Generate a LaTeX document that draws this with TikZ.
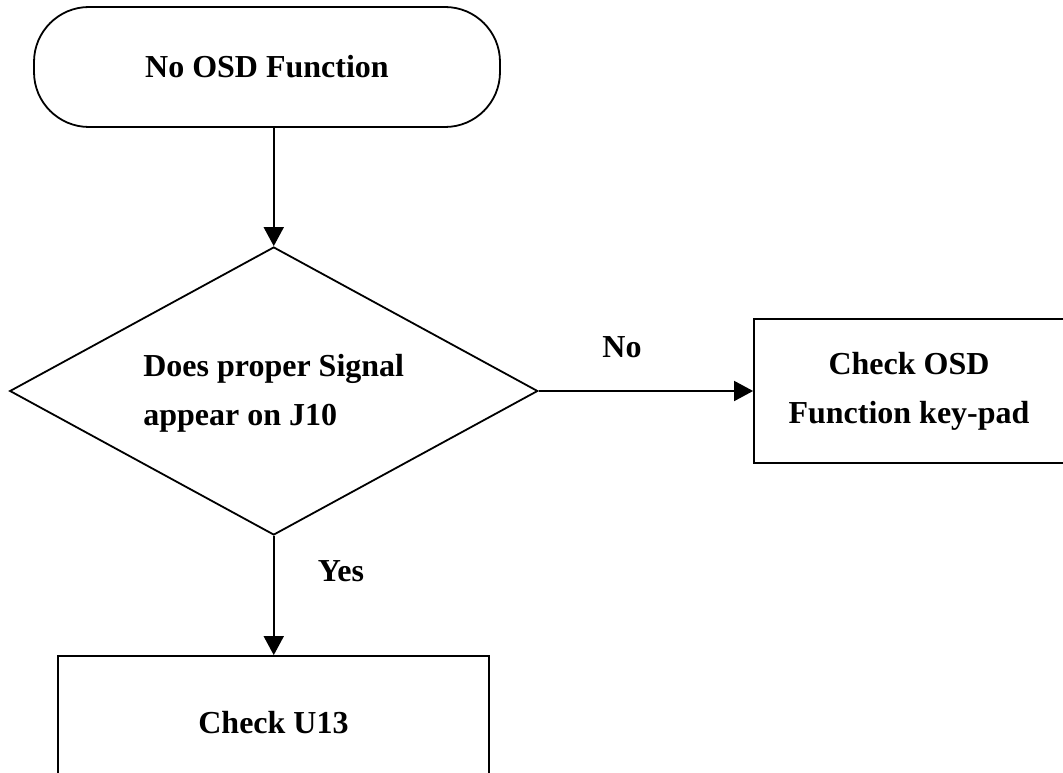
\documentclass[tikz,border=0pt]{standalone}
\usepackage{fontspec}
\setmainfont{Liberation Serif}
\usetikzlibrary{arrows.meta,shapes.geometric}
\begin{document}
\begin{tikzpicture}[x=1pt,y=-1pt,
  every node/.style={font=\fontsize{32}{49}\selectfont\bfseries},
  line/.style={draw=black, line width=1.8pt},
  flow/.style={line, -{Triangle[length=19pt,width=20pt]}},
  terminal/.style={line, rectangle, rounded corners=55pt, minimum width=466pt, minimum height=120pt, inner sep=0pt},
  decision/.style={line, diamond, aspect=1.84, minimum width=528pt, minimum height=288pt, inner sep=0pt},
  process/.style={line, rectangle, inner sep=0pt, align=center},
  tag/.style={inner sep=0pt}]
\fill[white] (0,0) rectangle (1063,773);
\useasboundingbox (0,0) rectangle (1063,773);
\clip (0,0) rectangle (1063,773);

% flow chart nodes
\node[terminal] (start) at (267,67) {No OSD Function};
\node[decision] (dec) at (273.75,391)
  {\raisebox{10pt}{\begin{tabular}{@{}l@{}}Does proper Signal\\appear on J10\end{tabular}}};
\node[process, minimum width=310pt, minimum height=144pt] (osd) at (909,391) {Check OSD\\Function key-pad};
\node[process, minimum width=431pt, minimum height=134pt] (u13) at (273.5,723) {Check U13};

% branch labels
\node[tag] (no) at (622,347) {No};
\node[tag] (yes) at (341,571) {Yes};

% connectors
\draw[flow] (start.south -| dec.north) -- (dec.north);
\draw[flow] (dec.east) -- (osd.west);
\draw[flow] (dec.south) -- (u13.north -| dec.south);
\end{tikzpicture}
\end{document}
